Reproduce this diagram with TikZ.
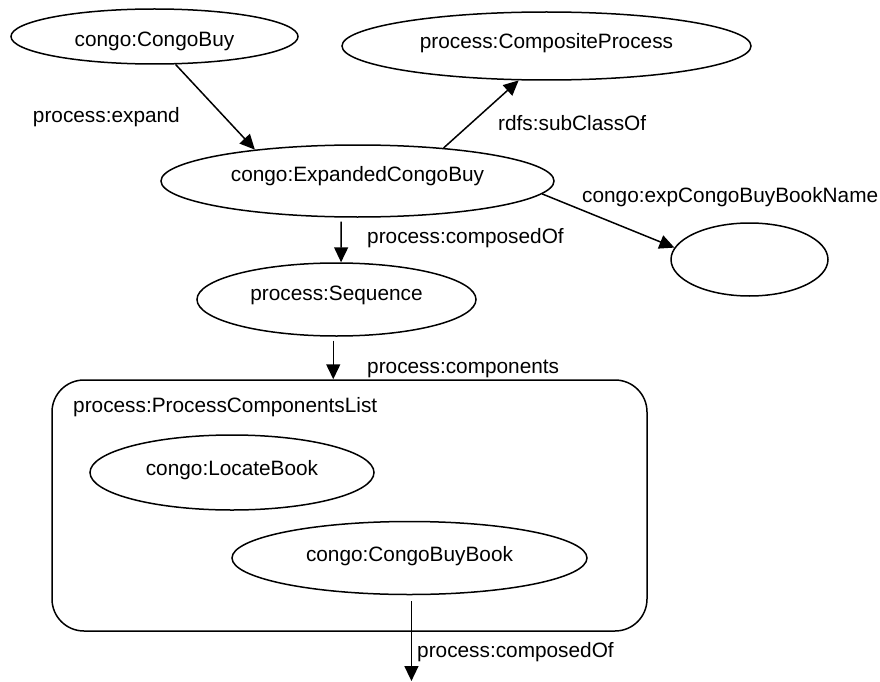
\documentclass[tikz,border=0pt]{standalone}
\usepackage{fontspec}
\setmainfont{Liberation Sans}
\usetikzlibrary{arrows.meta,shapes.geometric}
\begin{document}
\begin{tikzpicture}[x=1pt,y=-1pt,
  every node/.style={font=\fontsize{20.8}{25}\selectfont},
  ent/.style={draw, ellipse, line width=1.5pt, inner sep=0pt},
  conn/.style={line width=1.5pt, -{Triangle[length=15pt,width=14pt]}},
  lbl/.style={inner sep=0pt},
  txtoff/.style={text height=#1, text depth=0pt}
]
\useasboundingbox (0,0) rectangle (880,682);

% list box
\node[draw, line width=1.5pt, rounded corners=32pt, minimum width=595pt,
      minimum height=251pt, inner sep=0pt] (box) at (349.5,505.5) {};
\node[lbl, anchor=base west] (boxlbl) at (73,412.5) {process:ProcessComponentsList};

% entities
\node[ent, minimum width=287pt, minimum height=55pt, txtoff=20pt] (buy) at (154.5,36.5) {congo:CongoBuy};
\node[ent, minimum width=409pt, minimum height=68pt, txtoff=4.6pt] (comp) at (546.5,46) {process:CompositeProcess};
\node[ent, minimum width=393pt, minimum height=72pt, txtoff=1.4pt] (exp) at (357.5,181) {congo:ExpandedCongoBuy};
\node[ent, minimum width=157pt, minimum height=73pt] (name) at (749.5,259.5) {};
\node[ent, minimum width=279pt, minimum height=73pt, txtoff=1pt] (seq) at (336.5,299.5) {process:Sequence};
\node[ent, minimum width=284pt, minimum height=75pt, txtoff=5pt] (loc) at (232,472.5) {congo:LocateBook};
\node[ent, minimum width=355pt, minimum height=73pt, txtoff=7.4pt] (cbb) at (409.5,558) {congo:CongoBuyBook};

\coordinate (bend) at (411.7,681);

% connectors
\draw[conn] (buy.-53.6) -- (exp.163.5);
\draw[conn] (exp.21.6) -- (comp.231.2);
\draw[conn] (exp.-4.5) -- (name.171);
\draw[conn, shorten <=4pt] (exp.-114.6) -- (seq.83);
\draw[conn, shorten <=4pt] (seq.-95) -- (seq.-95 |- box.north);
\draw[conn, shorten <=6pt] (cbb.-87) -- (cbb.-87 |- bend);

% connector labels
\node[lbl, anchor=base east] (l1) at (180,123) {process:expand};
\node[lbl, anchor=base west] (l2) at (498,131) {rdfs:subClassOf};
\node[lbl, anchor=base west] (l3) at (582,202) {congo:expCongoBuyBookName};
\node[lbl, anchor=base west] (l4) at (367,243) {process:composedOf};
\node[lbl, anchor=base west] (l5) at (367,373) {process:components};
\node[lbl, anchor=base west] (l6) at (417,657.5) {process:composedOf};
\end{tikzpicture}
\end{document}
